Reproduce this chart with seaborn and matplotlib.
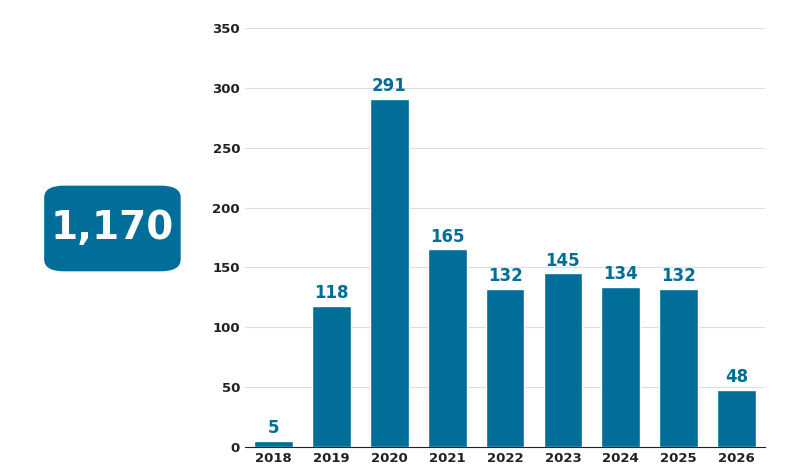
import matplotlib
matplotlib.use('Agg')
import matplotlib.pyplot as plt
import seaborn as sns
from matplotlib.patches import FancyBboxPatch

years = ['2018', '2019', '2020', '2021', '2022', '2023', '2024', '2025', '2026']
counts = [5, 118, 291, 165, 132, 145, 134, 132, 48]
total_label = '1,170'
yticks = [0, 50, 100, 150, 200, 250, 300, 350]

blue = '#006e99'
sns.set_style('white')
plt.rcParams['font.family'] = ['DejaVu Sans']

fig = plt.figure(figsize=(8.03, 4.76), dpi=100)
ax = fig.add_axes([0.305, 0.061, 0.648, 0.88])
sns.barplot(x=years, y=counts, color=blue, width=0.67, saturation=1, ax=ax)
ax.set_ylim(0, 350)
ax.set_yticks(yticks)
ax.grid(axis='y', color='#dddddd', linewidth=0.8)
ax.set_axisbelow(True)
for s in ['top', 'right', 'left']:
    ax.spines[s].set_visible(False)
ax.spines['bottom'].set_color('#222222')
ax.tick_params(axis='both', length=0, labelsize=9.5)
for lab in ax.get_xticklabels() + ax.get_yticklabels():
    lab.set_fontweight('bold')
    lab.set_color('#222222')
for i, v in enumerate(counts):
    ax.text(i, v + 3, str(v), ha='center', va='bottom', fontsize=12,
            fontweight='bold', color=blue)

box = FancyBboxPatch((0.055, 0.43), 0.17, 0.18, boxstyle='round,pad=0,rounding_size=0.025',
                     transform=fig.transFigure, facecolor=blue, edgecolor='none')
fig.patches.append(box)
fig.text(0.14, 0.52, total_label, ha='center', va='center', fontsize=28,
         fontweight='bold', color='white')

fig.savefig('out.png', dpi=100)
